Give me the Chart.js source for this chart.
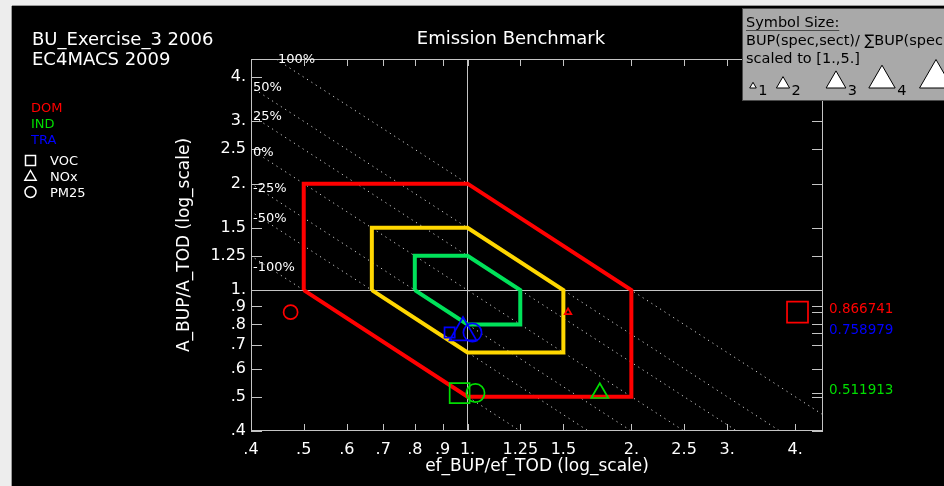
<!DOCTYPE html>
<html>
<head>
<meta charset="utf-8">
<title>Emission Benchmark</title>
<script src="https://cdn.jsdelivr.net/npm/chart.js@4.4.0/dist/chart.umd.min.js"></script>
<style>
  html, body { margin: 0; padding: 0; background: #ececec; }
  #wrap { width: 944px; height: 486px; }
</style>
</head>
<body>
<div id="wrap"><canvas id="grafico" width="944" height="486"></canvas></div>
<script>
// ejes log-log
const xTicks = [0.4, 0.5, 0.6, 0.7, 0.8, 0.9, 1, 1.25, 1.5, 2, 2.5, 3, 4];
const xTickLabels = ['.4', '.5', '.6', '.7', '.8', '.9', '1.', '1.25', '1.5', '2.', '2.5', '3.', '4.'];
const yTicks = [0.4, 0.5, 0.6, 0.7, 0.8, 0.9, 1, 1.25, 1.5, 2, 2.5, 3, 4];
const yTickLabels = ['.4', '.5', '.6', '.7', '.8', '.9', '1.', '1.25', '1.5', '2.', '2.5', '3.', '4.'];
const axisMin = 0.4;
const axisMax = 4.5;

// sectores y A_BUP/A_TOD
const sectors = ['DOM', 'IND', 'TRA'];
const sectorY = [0.866741, 0.511913, 0.758979];

// ef_BUP/ef_TOD por especie (DOM, IND, TRA)
const vocX = [4.04, 0.967, 0.927];
const noxX = [1.53, 1.75, 0.981];
const pm25X = [0.473, 1.034, 1.021];

// tamaño de simbolo, escalado a [1,5]
const vocSize = [3.9, 3.7, 1.9];
const noxSize = [1, 2.6, 4.1];
const pm25Size = [1.85, 2.4, 2.4];

// bandas del benchmark
const redBandX = [0.5, 0.5, 1, 2, 2, 1, 0.5];
const redBandY = [1, 2, 2, 1, 0.5, 0.5, 1];
const yellowBandX = [0.667, 0.667, 1, 1.5, 1.5, 1, 0.667];
const yellowBandY = [1, 1.5, 1.5, 1, 0.667, 0.667, 1];
const greenBandX = [0.8, 0.8, 1, 1.25, 1.25, 1, 0.8];
const greenBandY = [1, 1.25, 1.25, 1, 0.8, 0.8, 1];

// lineas x*y = cte
const isoLevels = [2, 1.5, 1.25, 1, 0.8, 0.667, 0.5];
const isoLabels = ['100%', '50%', '25%', '0%', '-25%', '-50%', '-100%'];

const legendSizes = [1, 2, 3, 4, 5];

// estilos
const sectorColors = ['#ff0000', '#00dd00', '#0000ff'];
const species = ['VOC', 'NOx', 'PM25'];
const FONT = "'DejaVu Sans', sans-serif";
const AXIS = '#c4c4c4';
const K = 3.8; // px por unidad de tamaño

function puntos(xs, ys) {
    return xs.map((x, i) => ({x: x, y: ys[i]}));
}

function marcador(label, xs, sizes, style) {
    return {
        type: 'scatter',
        label: label,
        data: puntos(xs, sectorY),
        pointStyle: style,
        pointRadius: sizes.map(s => s * K),
        pointBorderColor: sectorColors,
        pointBackgroundColor: 'rgba(0,0,0,0)',
        pointBorderWidth: 1.7,
        showLine: false,
        order: 0
    };
}

function banda(label, xs, ys, color) {
    return {
        type: 'line',
        label: label,
        data: puntos(xs, ys),
        borderColor: color,
        borderWidth: 4,
        pointRadius: 0,
        fill: false,
        tension: 0,
        order: 1
    };
}

var datasets = [
    marcador('VOC', vocX, vocSize, 'rect'),
    marcador('NOx', noxX, noxSize, 'triangle'),
    marcador('PM25', pm25X, pm25Size, 'circle'),
    banda('verde', greenBandX, greenBandY, '#00e25a'),
    banda('amarillo', yellowBandX, yellowBandY, '#ffd700'),
    banda('rojo', redBandX, redBandY, '#ff0000')
];

isoLevels.forEach((c, i) => {
    datasets.push({
        type: 'line',
        label: isoLabels[i],
        data: [{x: 0.1, y: c / 0.1}, {x: 10, y: c / 10}],
        borderColor: '#cfcfcf',
        borderWidth: 1,
        borderDash: [1.2, 4],
        pointRadius: 0,
        order: 2
    });
});

function linea(ctx, x1, y1, x2, y2) {
    ctx.beginPath();
    ctx.moveTo(x1, y1);
    ctx.lineTo(x2, y2);
    ctx.stroke();
}

function triangulo(ctx, cx, cy, r) {
    ctx.beginPath();
    ctx.moveTo(cx, cy - r);
    ctx.lineTo(cx + 0.866 * r, cy + r / 2);
    ctx.lineTo(cx - 0.866 * r, cy + r / 2);
    ctx.closePath();
}

const marco = {
    id: 'marco',
    beforeDraw(chart) {
        const ctx = chart.ctx;
        ctx.save();
        ctx.fillStyle = '#ededed';
        ctx.fillRect(0, 0, 944, 486);
        ctx.fillStyle = '#000';
        ctx.fillRect(12, 6, 932, 480);
        ctx.strokeStyle = '#9a9a9a';
        ctx.lineWidth = 1;
        linea(ctx, 11.5, 6, 11.5, 486);
        linea(ctx, 12, 5.5, 944, 5.5);
        ctx.restore();
    },
    afterDatasetsDraw(chart) {
        const ctx = chart.ctx;
        const a = chart.chartArea;
        const xs = chart.scales.x;
        const ys = chart.scales.y;
        ctx.save();
        ctx.strokeStyle = AXIS;
        ctx.lineWidth = 1;
        ctx.strokeRect(a.left + 0.5, a.top + 0.5, a.right - a.left - 1, a.bottom - a.top - 1);

        // marcas de los ejes, hacia dentro
        xTicks.forEach(v => {
            const px = Math.round(xs.getPixelForValue(v)) + 0.5;
            linea(ctx, px, a.bottom, px, a.bottom - 7);
            linea(ctx, px, a.top, px, a.top + 7);
        });
        yTicks.concat(sectorY).forEach(v => {
            const py = Math.round(ys.getPixelForValue(v)) + 0.5;
            if (sectorY.indexOf(v) < 0) linea(ctx, a.left, py, a.left + 11, py);
            linea(ctx, a.right, py, a.right - 11, py);
        });

        // etiquetas de las lineas de %
        const dy = [1, 1, 2, 3, 5, 7, 12];
        ctx.fillStyle = '#fff';
        ctx.font = '13px ' + FONT;
        ctx.textAlign = 'left';
        ctx.textBaseline = 'middle';
        isoLevels.forEach((c, i) => {
            let vx = axisMin, vy = c / axisMin;
            if (vy > axisMax) { vy = axisMax; vx = c / axisMax; }
            const px = Math.max(xs.getPixelForValue(vx) + 2, a.left + 1);
            ctx.fillText(isoLabels[i], px, ys.getPixelForValue(vy) + dy[i]);
        });

        // valores a la derecha
        ctx.textBaseline = 'alphabetic';
        ctx.font = '13.5px ' + FONT;
        sectorY.forEach((v, i) => {
            ctx.fillStyle = sectorColors[i];
            ctx.fillText(v.toFixed(6), a.right + 6, ys.getPixelForValue(v) + 1);
        });
        ctx.restore();
    },
    afterDraw(chart) {
        const ctx = chart.ctx;
        ctx.save();
        ctx.fillStyle = '#fff';
        ctx.textAlign = 'left';
        ctx.textBaseline = 'alphabetic';
        ctx.font = '18px ' + FONT;
        ctx.fillText('BU_Exercise_3 2006', 32, 45);
        ctx.fillText('EC4MACS 2009', 32, 65);
        ctx.textAlign = 'center';
        ctx.fillText('Emission Benchmark', 511, 44);

        // leyenda de sectores y especies
        ctx.textAlign = 'left';
        ctx.font = '13px ' + FONT;
        sectors.forEach((s, i) => {
            ctx.fillStyle = sectorColors[i];
            ctx.fillText(s, 31, 112 + i * 16);
        });
        ctx.fillStyle = '#fff';
        ctx.strokeStyle = '#fff';
        ctx.lineWidth = 1.5;
        species.forEach((s, i) => {
            ctx.fillText(s, 50, 165 + i * 16);
        });
        ctx.strokeRect(25.5, 155.5, 10, 10);
        triangulo(ctx, 30.5, 177, 6.5);
        ctx.stroke();
        ctx.beginPath();
        ctx.arc(30.5, 192, 5.5, 0, Math.PI * 2);
        ctx.stroke();

        // caja de tamaño de simbolo
        ctx.fillStyle = '#a9a9a9';
        ctx.fillRect(743, 9, 201, 92);
        ctx.strokeStyle = '#4a4a4a';
        ctx.lineWidth = 1;
        linea(ctx, 742.5, 9, 742.5, 101);
        linea(ctx, 742, 8.5, 944, 8.5);
        linea(ctx, 742, 100.5, 944, 100.5);
        ctx.fillStyle = '#000';
        ctx.font = '14.5px ' + FONT;
        ctx.fillText('Symbol Size:', 746, 27);
        linea(ctx, 746, 30.5, 746 + ctx.measureText('Symbol Size:').width, 30.5);
        ctx.fillText('BUP(spec,sect)/ \u2211BUP(spec,sect)', 746, 45);
        ctx.fillText('scaled to [1.,5.]', 746, 63);
        const cxs = [753, 783, 836, 882, 936];
        legendSizes.forEach((s, i) => {
            const r = s * K;
            triangulo(ctx, cxs[i], 88 - r / 2, r);
            ctx.fillStyle = '#fff';
            ctx.fill();
            ctx.strokeStyle = '#000';
            ctx.stroke();
            ctx.fillStyle = '#000';
            ctx.fillText(String(s), cxs[i] + 0.866 * r + 2, 95);
        });
        ctx.restore();
    }
};

const grafico = new Chart(document.getElementById('grafico'), {
    data: { datasets: datasets },
    options: {
        responsive: false,
        animation: false,
        events: [],
        layout: { padding: { left: 170, top: 59, right: 121, bottom: 0 } },
        plugins: { legend: { display: false }, tooltip: { enabled: false } },
        scales: {
            x: {
                type: 'logarithmic',
                position: 'bottom',
                min: axisMin,
                max: axisMax,
                afterFit: s => { s.height = 55; },
                afterBuildTicks: s => { s.ticks = xTicks.map(v => ({value: v})); },
                ticks: {
                    autoSkip: false,
                    maxRotation: 0,
                    color: '#fff',
                    padding: 9,
                    font: { family: FONT, size: 16 },
                    callback: (v, i) => xTickLabels[i]
                },
                grid: {
                    drawTicks: false,
                    color: c => (c.tick && c.tick.value === 1) ? AXIS : 'rgba(0,0,0,0)'
                },
                border: { display: false },
                title: {
                    display: true,
                    text: 'ef_BUP/ef_TOD (log_scale)',
                    color: '#fff',
                    font: { family: FONT, size: 17 },
                    padding: { top: 0, bottom: 9 }
                }
            },
            y: {
                type: 'logarithmic',
                position: 'left',
                min: axisMin,
                max: axisMax,
                afterFit: s => { s.width = 81; },
                afterBuildTicks: s => { s.ticks = yTicks.map(v => ({value: v})); },
                ticks: {
                    autoSkip: false,
                    color: '#fff',
                    padding: 5,
                    font: { family: FONT, size: 16 },
                    callback: (v, i) => yTickLabels[i]
                },
                grid: {
                    drawTicks: false,
                    color: c => (c.tick && c.tick.value === 1) ? AXIS : 'rgba(0,0,0,0)'
                },
                border: { display: false },
                title: {
                    display: true,
                    text: 'A_BUP/A_TOD (log_scale)',
                    color: '#fff',
                    font: { family: FONT, size: 17 },
                    padding: { top: 4, bottom: 0 }
                }
            }
        }
    },
    plugins: [marco]
});
</script>
</body>
</html>
